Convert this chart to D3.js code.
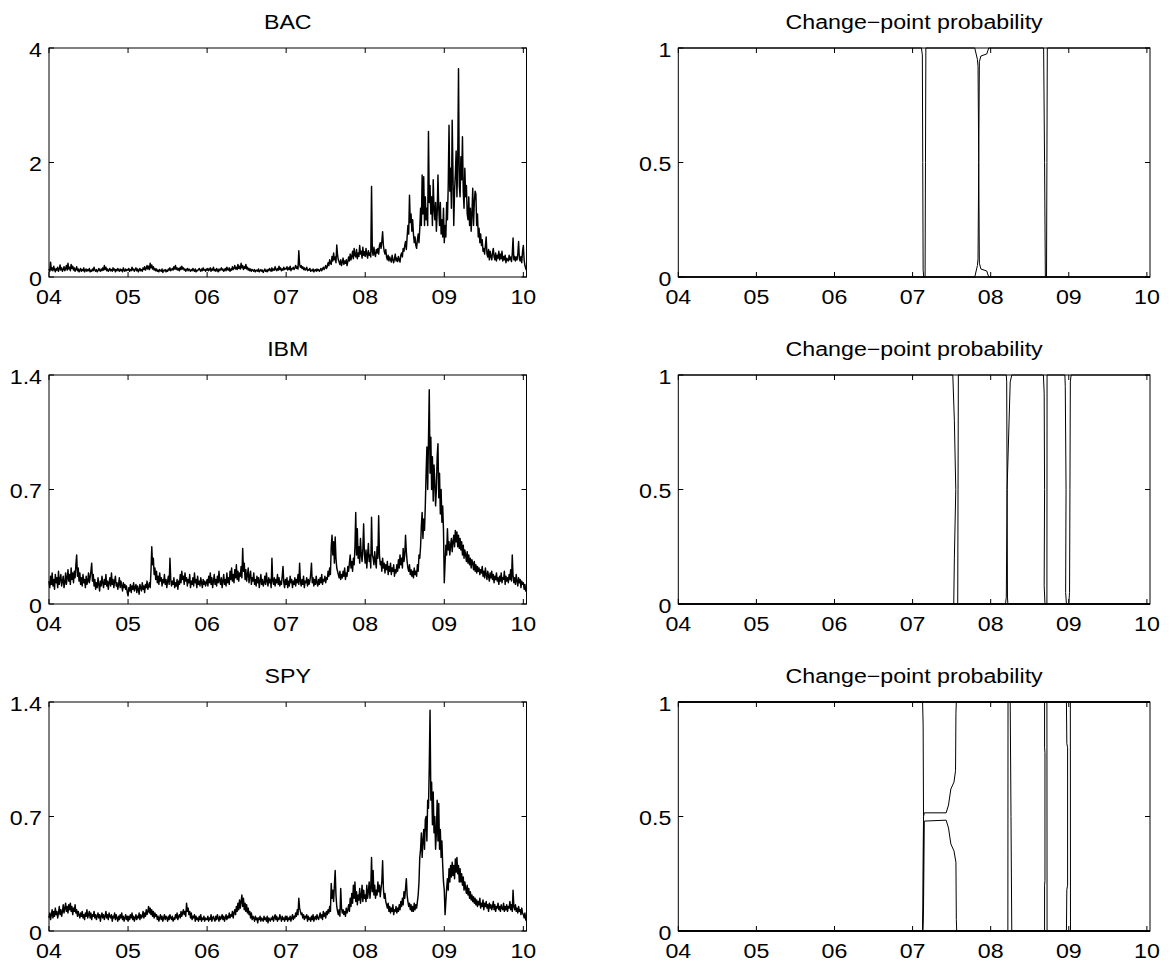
<!DOCTYPE html>
<html><head><meta charset="utf-8">
<script src="https://cdn.jsdelivr.net/npm/d3@7"></script>
<style>body{margin:0;background:#fff}svg{display:block}text{font-family:"Liberation Sans",Arial,sans-serif;fill:#000}</style>
</head><body><svg id="c" width="1170" height="961"></svg>
<script>
// ---------- data ----------
const yearTicks = [2004,2005,2006,2007,2008,2009,2010];
const yearLabels = ["04","05","06","07","08","09","10"];
const tStart = 2004, tEnd = 2010.04;
const seriesNames = ["BAC","IBM","SPY"];
const cpTitle = "Change\u2212point probability";
const yTicksBAC = [0,2,4], yLabelsBAC = ["0","2","4"];
const yTicksIBM = [0,0.7,1.4], yLabelsIBM = ["0","0.7","1.4"];
const yTicksSPY = [0,0.7,1.4], yLabelsSPY = ["0","0.7","1.4"];
const yTicksCP = [0,0.5,1], yLabelsCP = ["0","0.5","1"];

// volatility, sampled every ~0.01 year from 2004.00 to 2010.04
const volBAC = [
0.14,0.1,0.26,0.12,0.16,0.11,0.19,0.13,0.09,0.15,0.12,0.17,0.1,0.14,0.21,0.12,0.16,0.1,0.13,0.18,
0.11,0.15,0.2,0.12,0.24,0.14,0.17,0.11,0.22,0.15,0.19,0.12,0.16,0.1,0.13,0.18,0.11,0.14,0.09,0.12,
0.15,0.1,0.13,0.11,0.16,0.09,0.12,0.14,0.1,0.13,0.11,0.15,0.09,0.12,0.1,0.14,0.11,0.17,0.12,0.1,
0.13,0.09,0.11,0.15,0.12,0.1,0.14,0.11,0.16,0.12,0.2,0.13,0.17,0.11,0.14,0.1,0.12,0.15,0.11,0.13,
0.1,0.16,0.12,0.14,0.09,0.13,0.11,0.15,0.12,0.1,0.14,0.11,0.13,0.09,0.16,0.12,0.1,0.14,0.11,0.13,
0.12,0.15,0.1,0.13,0.11,0.17,0.12,0.14,0.1,0.13,0.16,0.11,0.14,0.09,0.12,0.15,0.11,0.13,0.1,0.16,
0.13,0.18,0.12,0.15,0.2,0.14,0.19,0.13,0.24,0.16,0.21,0.14,0.18,0.12,0.15,0.11,0.14,0.1,0.12,0.09,
0.13,0.11,0.1,0.14,0.08,0.12,0.11,0.13,0.09,0.12,0.1,0.14,0.12,0.16,0.11,0.13,0.15,0.12,0.18,0.14,
0.2,0.13,0.16,0.12,0.15,0.11,0.17,0.13,0.19,0.14,0.16,0.12,0.14,0.1,0.13,0.15,0.11,0.14,0.12,0.1,
0.13,0.11,0.15,0.12,0.1,0.14,0.09,0.12,0.11,0.13,0.15,0.12,0.1,0.14,0.11,0.16,0.12,0.13,0.1,0.14,
0.12,0.15,0.11,0.13,0.16,0.1,0.14,0.12,0.17,0.11,0.13,0.1,0.15,0.12,0.09,0.14,0.11,0.13,0.16,0.12,
0.14,0.1,0.12,0.15,0.11,0.17,0.13,0.12,0.16,0.1,0.14,0.12,0.18,0.13,0.15,0.2,0.14,0.17,0.13,0.22,
0.15,0.19,0.14,0.24,0.16,0.2,0.13,0.18,0.15,0.22,0.14,0.17,0.12,0.15,0.11,0.14,0.1,0.13,0.12,0.1,
0.13,0.09,0.11,0.12,0.1,0.14,0.09,0.11,0.13,0.1,0.12,0.08,0.11,0.14,0.1,0.12,0.09,0.13,0.11,0.15,
0.12,0.1,0.16,0.11,0.14,0.12,0.18,0.13,0.11,0.15,0.12,0.19,0.13,0.16,0.11,0.14,0.12,0.17,0.13,0.15,
0.14,0.18,0.12,0.16,0.13,0.19,0.11,0.15,0.14,0.17,0.13,0.16,0.2,0.15,0.18,0.14,0.46,0.22,0.17,0.2,
0.15,0.18,0.13,0.16,0.12,0.14,0.17,0.11,0.13,0.12,0.15,0.1,0.12,0.11,0.14,0.09,0.12,0.13,0.1,0.14,
0.11,0.13,0.1,0.12,0.15,0.11,0.14,0.17,0.13,0.16,0.2,0.15,0.18,0.25,0.2,0.3,0.24,0.22,0.36,0.28,
0.42,0.3,0.35,0.25,0.56,0.38,0.3,0.26,0.22,0.3,0.2,0.26,0.33,0.22,0.28,0.24,0.3,0.2,0.27,0.35,
0.28,0.4,0.3,0.36,0.45,0.32,0.5,0.38,0.35,0.48,0.32,0.42,0.36,0.55,0.4,0.45,0.33,0.52,0.38,0.44,
0.36,0.5,0.4,0.33,0.46,0.38,0.42,0.35,1.58,0.45,0.38,0.52,0.4,0.36,0.48,0.42,0.5,0.4,0.55,0.6,
0.5,0.62,0.79,0.55,0.45,0.4,0.48,0.35,0.3,0.38,0.28,0.35,0.3,0.26,0.38,0.3,0.25,0.32,0.4,0.28,
0.33,0.27,0.36,0.3,0.26,0.38,0.42,0.35,0.5,0.45,0.55,0.62,0.48,0.7,0.9,0.75,1.43,0.95,1.1,0.8,
1.0,0.75,0.6,0.7,0.55,0.5,0.65,0.75,0.6,0.85,1.2,0.9,1.78,1.1,1.75,0.9,1.4,1.0,1.2,0.9,
2.54,1.3,1.6,1.1,1.4,0.9,1.7,1.2,1.0,1.3,0.8,1.1,1.78,1.2,0.9,1.3,0.75,1.0,0.7,1.2,
0.6,0.9,0.7,1.3,1.0,1.6,2.65,1.5,1.9,1.2,2.74,1.8,0.9,1.5,1.8,2.2,1.4,2.0,3.64,1.6,
1.4,2.1,1.7,2.45,1.5,1.2,1.9,1.4,1.6,1.1,1.0,1.4,0.9,1.2,0.8,1.1,1.55,0.9,1.3,1.5,
1.45,0.9,1.1,0.7,0.85,0.6,0.75,0.55,0.65,0.45,0.5,0.4,0.55,0.7,0.4,0.35,0.48,0.3,0.45,0.36,
0.3,0.42,0.5,0.35,0.3,0.42,0.28,0.38,0.33,0.45,0.3,0.4,0.32,0.45,0.28,0.36,0.3,0.38,0.25,0.33,
0.3,0.28,0.38,0.3,0.35,0.27,0.4,0.68,0.3,0.36,0.28,0.35,0.3,0.4,0.62,0.32,0.28,0.36,0.25,0.45,
0.55,0.3,0.2,0.15,0.12];

const volIBM = [
0.14,0.1,0.17,0.12,0.19,0.11,0.15,0.09,0.18,0.13,0.16,0.1,0.2,0.12,0.15,0.18,0.11,0.14,0.17,0.1,
0.13,0.19,0.12,0.16,0.21,0.14,0.18,0.12,0.22,0.15,0.19,0.13,0.2,0.16,0.24,0.3,0.17,0.22,0.14,0.19,
0.12,0.16,0.11,0.18,0.13,0.15,0.1,0.17,0.12,0.14,0.19,0.13,0.16,0.2,0.25,0.14,0.18,0.11,0.15,0.09,
0.13,0.1,0.16,0.12,0.08,0.14,0.11,0.17,0.13,0.1,0.15,0.12,0.18,0.11,0.14,0.09,0.13,0.16,0.11,0.19,
0.12,0.15,0.1,0.14,0.17,0.11,0.13,0.09,0.12,0.16,0.1,0.14,0.11,0.08,0.13,0.1,0.12,0.09,0.11,0.07,
0.05,0.1,0.08,0.12,0.07,0.11,0.09,0.13,0.08,0.1,0.12,0.07,0.11,0.09,0.06,0.12,0.1,0.08,0.13,0.09,
0.11,0.07,0.12,0.1,0.14,0.09,0.11,0.13,0.1,0.2,0.35,0.24,0.28,0.18,0.22,0.15,0.2,0.13,0.17,0.12,
0.19,0.14,0.16,0.11,0.15,0.13,0.18,0.12,0.15,0.1,0.14,0.17,0.12,0.28,0.15,0.11,0.14,0.12,0.16,0.1,
0.13,0.11,0.15,0.09,0.14,0.12,0.18,0.13,0.2,0.15,0.17,0.12,0.19,0.14,0.16,0.11,0.15,0.13,0.18,0.1,
0.14,0.12,0.16,0.11,0.19,0.13,0.15,0.1,0.17,0.12,0.14,0.11,0.16,0.13,0.1,0.15,0.12,0.14,0.11,0.13,
0.15,0.11,0.17,0.13,0.19,0.12,0.16,0.1,0.14,0.18,0.12,0.15,0.11,0.17,0.13,0.2,0.14,0.12,0.16,0.1,
0.14,0.18,0.12,0.15,0.11,0.19,0.13,0.16,0.12,0.2,0.15,0.22,0.14,0.18,0.13,0.21,0.16,0.24,0.15,0.2,
0.14,0.19,0.17,0.23,0.16,0.34,0.2,0.25,0.15,0.21,0.14,0.18,0.22,0.13,0.17,0.2,0.12,0.16,0.14,0.19,
0.12,0.15,0.11,0.17,0.13,0.16,0.1,0.14,0.18,0.12,0.15,0.11,0.13,0.17,0.12,0.19,0.14,0.11,0.16,0.13,
0.15,0.1,0.28,0.14,0.12,0.16,0.11,0.15,0.13,0.18,0.12,0.16,0.11,0.14,0.12,0.17,0.23,0.13,0.1,0.15,
0.12,0.16,0.1,0.14,0.11,0.17,0.13,0.15,0.1,0.14,0.12,0.16,0.11,0.15,0.13,0.18,0.12,0.25,0.14,0.11,
0.15,0.12,0.17,0.1,0.14,0.13,0.16,0.11,0.15,0.12,0.14,0.18,0.25,0.13,0.16,0.11,0.15,0.12,0.17,0.13,
0.11,0.15,0.12,0.16,0.13,0.18,0.12,0.15,0.14,0.17,0.13,0.16,0.15,0.2,0.17,0.22,0.18,0.35,0.42,0.3,
0.38,0.25,0.41,0.28,0.22,0.2,0.18,0.16,0.2,0.15,0.18,0.16,0.2,0.17,0.22,0.15,0.19,0.17,0.23,0.2,
0.25,0.3,0.22,0.26,0.2,0.28,0.24,0.35,0.56,0.3,0.46,0.28,0.35,0.25,0.4,0.3,0.26,0.34,0.49,0.3,
0.25,0.33,0.22,0.3,0.37,0.26,0.3,0.22,0.53,0.3,0.28,0.24,0.32,0.26,0.22,0.35,0.28,0.54,0.3,0.24,
0.26,0.2,0.28,0.22,0.25,0.19,0.24,0.21,0.26,0.18,0.23,0.2,0.25,0.18,0.22,0.2,0.24,0.17,0.21,0.19,
0.24,0.2,0.27,0.22,0.3,0.24,0.28,0.22,0.34,0.26,0.3,0.42,0.32,0.26,0.22,0.2,0.24,0.18,0.21,0.17,
0.2,0.16,0.22,0.18,0.2,0.17,0.24,0.2,0.3,0.28,0.35,0.48,0.56,0.4,0.52,0.45,0.6,0.8,0.96,0.7,
1.0,1.31,0.8,1.02,0.7,0.9,0.63,0.85,0.75,0.6,0.7,0.9,0.98,0.65,0.8,0.55,0.7,0.5,0.6,0.45,
0.13,0.25,0.36,0.3,0.46,0.33,0.38,0.3,0.36,0.4,0.32,0.38,0.42,0.35,0.45,0.38,0.44,0.35,0.42,0.34,
0.4,0.33,0.38,0.3,0.36,0.28,0.33,0.3,0.26,0.32,0.25,0.3,0.24,0.28,0.22,0.27,0.25,0.21,0.26,0.2,
0.24,0.19,0.23,0.2,0.22,0.18,0.21,0.19,0.23,0.17,0.2,0.16,0.22,0.18,0.15,0.2,0.17,0.14,0.19,0.16,
0.2,0.15,0.18,0.13,0.17,0.15,0.19,0.14,0.16,0.12,0.17,0.14,0.19,0.13,0.16,0.15,0.2,0.12,0.17,0.14,
0.16,0.13,0.18,0.15,0.21,0.14,0.3,0.17,0.13,0.16,0.12,0.18,0.14,0.11,0.16,0.13,0.15,0.1,0.14,0.12,
0.13,0.09,0.12,0.08,0.1];

const volSPY = [
0.08,0.11,0.07,0.1,0.13,0.08,0.12,0.09,0.14,0.1,0.12,0.08,0.11,0.15,0.1,0.13,0.09,0.12,0.16,0.11,
0.14,0.17,0.12,0.15,0.11,0.16,0.13,0.17,0.12,0.15,0.1,0.14,0.12,0.16,0.11,0.13,0.09,0.12,0.1,0.08,
0.11,0.09,0.12,0.08,0.1,0.07,0.11,0.09,0.13,0.08,0.1,0.12,0.08,0.11,0.07,0.1,0.09,0.12,0.08,0.1,
0.07,0.09,0.11,0.08,0.1,0.06,0.09,0.11,0.08,0.1,0.07,0.09,0.12,0.08,0.1,0.07,0.11,0.09,0.08,0.1,
0.06,0.09,0.08,0.11,0.07,0.1,0.08,0.06,0.09,0.07,0.1,0.08,0.11,0.07,0.09,0.06,0.08,0.1,0.07,0.09,
0.06,0.09,0.07,0.1,0.08,0.11,0.07,0.09,0.06,0.08,0.1,0.07,0.09,0.08,0.11,0.07,0.1,0.08,0.09,0.12,
0.08,0.11,0.09,0.13,0.1,0.12,0.15,0.11,0.14,0.1,0.13,0.09,0.12,0.08,0.11,0.09,0.1,0.07,0.09,0.06,
0.08,0.1,0.07,0.09,0.06,0.08,0.1,0.07,0.09,0.08,0.06,0.09,0.07,0.1,0.08,0.07,0.09,0.06,0.08,0.07,
0.1,0.08,0.11,0.07,0.09,0.1,0.08,0.12,0.09,0.11,0.13,0.1,0.12,0.09,0.17,0.12,0.14,0.1,0.12,0.08,
0.11,0.07,0.09,0.08,0.1,0.06,0.09,0.07,0.08,0.06,0.09,0.07,0.1,0.06,0.08,0.07,0.09,0.06,0.08,0.07,
0.07,0.09,0.06,0.08,0.07,0.1,0.06,0.08,0.09,0.07,0.06,0.09,0.07,0.1,0.08,0.06,0.09,0.07,0.08,0.1,
0.07,0.09,0.06,0.08,0.1,0.07,0.09,0.08,0.11,0.08,0.1,0.09,0.12,0.08,0.11,0.13,0.1,0.15,0.12,0.17,
0.13,0.19,0.14,0.18,0.22,0.15,0.2,0.13,0.17,0.12,0.16,0.11,0.14,0.1,0.12,0.08,0.11,0.07,0.09,0.08,
0.06,0.09,0.07,0.08,0.05,0.08,0.07,0.09,0.06,0.08,0.07,0.06,0.09,0.07,0.08,0.06,0.09,0.05,0.08,0.07,
0.06,0.08,0.07,0.09,0.06,0.08,0.1,0.07,0.09,0.06,0.08,0.07,0.1,0.08,0.06,0.09,0.07,0.08,0.06,0.09,
0.07,0.09,0.06,0.08,0.07,0.09,0.06,0.08,0.1,0.07,0.09,0.08,0.11,0.09,0.13,0.1,0.2,0.14,0.12,0.1,
0.11,0.08,0.1,0.07,0.09,0.08,0.1,0.06,0.09,0.07,0.08,0.06,0.09,0.07,0.1,0.06,0.08,0.09,0.07,0.1,
0.08,0.07,0.09,0.11,0.08,0.1,0.07,0.12,0.09,0.11,0.08,0.12,0.1,0.13,0.11,0.15,0.12,0.29,0.2,0.25,
0.18,0.28,0.37,0.22,0.15,0.12,0.1,0.13,0.09,0.26,0.14,0.11,0.13,0.1,0.12,0.09,0.14,0.11,0.13,0.16,
0.12,0.2,0.15,0.23,0.17,0.28,0.2,0.3,0.18,0.24,0.16,0.22,0.19,0.26,0.17,0.21,0.28,0.18,0.25,0.2,
0.22,0.18,0.28,0.2,0.24,0.3,0.2,0.26,0.45,0.24,0.37,0.22,0.28,0.2,0.25,0.22,0.3,0.24,0.28,0.21,
0.26,0.3,0.43,0.26,0.2,0.23,0.18,0.16,0.14,0.17,0.12,0.15,0.11,0.14,0.12,0.16,0.1,0.13,0.12,0.15,
0.11,0.14,0.12,0.16,0.13,0.18,0.15,0.2,0.16,0.24,0.2,0.26,0.32,0.22,0.18,0.15,0.17,0.13,0.16,0.12,
0.15,0.12,0.17,0.13,0.16,0.14,0.18,0.22,0.3,0.45,0.5,0.6,0.45,0.55,0.62,0.5,0.68,0.7,0.55,0.8,
0.75,1.0,1.35,0.8,0.91,0.65,0.85,0.6,0.7,0.5,0.6,0.8,0.55,0.78,0.5,0.62,0.45,0.55,0.4,0.3,
0.25,0.1,0.18,0.26,0.32,0.25,0.38,0.3,0.4,0.33,0.42,0.34,0.4,0.32,0.44,0.36,0.45,0.35,0.4,0.3,
0.38,0.3,0.35,0.28,0.33,0.25,0.3,0.26,0.23,0.28,0.22,0.26,0.2,0.24,0.19,0.22,0.18,0.21,0.17,0.2,
0.16,0.19,0.15,0.18,0.16,0.2,0.14,0.17,0.15,0.19,0.13,0.17,0.15,0.18,0.14,0.16,0.12,0.17,0.14,0.16,
0.13,0.15,0.18,0.13,0.16,0.12,0.15,0.14,0.17,0.13,0.15,0.12,0.16,0.14,0.13,0.17,0.12,0.15,0.13,0.16,
0.12,0.15,0.14,0.18,0.13,0.16,0.12,0.25,0.15,0.13,0.16,0.12,0.14,0.11,0.15,0.12,0.13,0.1,0.14,0.11,
0.1,0.08,0.11,0.07,0.06];

// change-point probability curves: [year, probability]
const cpBAC = [
 [[2004,1],[2007.113,1],[2007.125,0.97],[2007.13,0.5],[2007.135,0.03],[2007.143,0],[2010.04,0]],
 [[2004,0],[2007.16,0],[2007.165,0.5],[2007.17,1],[2007.796,1],[2007.83,0.95],[2007.838,0.92],[2007.847,0.5],[2007.855,0.06],[2007.875,0.035],[2007.95,0.026],[2007.975,0],[2010.04,0]],
 [[2004,0],[2007.796,0],[2007.83,0.05],[2007.838,0.08],[2007.847,0.5],[2007.855,0.94],[2007.875,0.965],[2007.95,0.974],[2007.975,1],[2008.678,1],[2008.69,0.5],[2008.70,0],[2010.04,0]],
 [[2004,0],[2008.715,0],[2008.72,0.5],[2008.725,1],[2010.04,1]]
];
const cpIBM = [
 [[2004,1],[2007.515,1],[2007.535,0.8],[2007.553,0.5],[2007.535,0.2],[2007.527,0],[2010.04,0]],
 [[2004,0],[2007.578,0],[2007.582,0.5],[2007.586,1],[2008.2,1],[2008.205,0.97],[2008.21,0.5],[2008.215,0.03],[2008.22,0],[2010.04,0]],
 [[2004,0],[2008.19,0],[2008.2,0.03],[2008.21,0.5],[2008.25,0.97],[2008.27,1],[2008.675,1],[2008.685,0.92],[2008.69,0.5],[2008.685,0.08],[2008.695,0],[2010.04,0]],
 [[2004,0],[2008.72,0],[2008.722,1],[2008.95,1],[2008.955,0.95],[2008.965,0.5],[2008.96,0.05],[2008.97,0],[2010.04,0]],
 [[2004,0],[2009.0,0],[2009.01,0.05],[2009.015,0.5],[2009.02,0.97],[2009.03,1],[2010.04,1]]
];
const cpSPY = [
 [[2004,1],[2007.128,1],[2007.135,0.9],[2007.14,0.5],[2007.135,0.1],[2007.128,0],[2010.04,0]],
 [[2004,0],[2007.13,0],[2007.14,0.1],[2007.15,0.48],[2007.43,0.484],[2007.46,0.45],[2007.49,0.38],[2007.53,0.35],[2007.555,0.3],[2007.56,0.05],[2007.565,0],[2010.04,0]],
 [[2004,0],[2007.13,0],[2007.14,0.5],[2007.15,0.516],[2007.43,0.516],[2007.46,0.55],[2007.49,0.62],[2007.53,0.65],[2007.55,0.7],[2007.555,0.95],[2007.56,1],[2010.04,1]],
 [[2004,0],[2008.22,0],[2008.222,1],[2010.04,1]],
 [[2004,1],[2008.25,1],[2008.26,0.5],[2008.27,0],[2010.04,0]],
 [[2004,0],[2008.69,0],[2008.69,0.2],[2008.695,0.22],[2008.695,0.78],[2008.69,0.8],[2008.69,1],[2010.04,1]],
 [[2004,1],[2008.72,1],[2008.722,0],[2010.04,0]],
 [[2004,0],[2008.97,0],[2008.975,0.18],[2008.985,0.2],[2008.985,0.8],[2008.975,0.82],[2008.97,1],[2010.04,1]],
 [[2004,1],[2009.02,1],[2009.022,0],[2010.04,0]]
];

// ---------- layout ----------
const svg = d3.select("#c");
const leftX = [49, 526.5], rightX = [678.3, 1150];
const rowTop = [48, 375, 702], rowH = 229;
const fontPx = 20, stretch = 1.16;

function drawAxes(g, x, y, yt, yl, title) {
  const [x0,x1] = x.range(), [y0,y1] = [y.range()[1], y.range()[0]];
  g.append("rect").attr("x",x0).attr("y",y0).attr("width",x1-x0).attr("height",y1-y0)
    .attr("fill","none").attr("stroke","#000").attr("stroke-width",1);
  const tl = 5;
  yearTicks.forEach((t,i)=>{
    const xx = x(t);
    g.append("line").attr("x1",xx).attr("x2",xx).attr("y1",y1).attr("y2",y1-tl).attr("stroke","#000");
    g.append("line").attr("x1",xx).attr("x2",xx).attr("y1",y0).attr("y2",y0+tl).attr("stroke","#000");
    g.append("text").attr("text-anchor","middle").attr("font-size",fontPx)
      .attr("transform",`translate(${xx},${y1+26.5}) scale(${stretch},1)`).text(yearLabels[i]);
  });
  yt.forEach((v,i)=>{
    const yy = y(v);
    g.append("line").attr("x1",x0).attr("x2",x0+tl).attr("y1",yy).attr("y2",yy).attr("stroke","#000");
    g.append("line").attr("x1",x1).attr("x2",x1-tl).attr("y1",yy).attr("y2",yy).attr("stroke","#000");
    g.append("text").attr("text-anchor","end").attr("font-size",fontPx)
      .attr("transform",`translate(${x0-7},${yy+8.5}) scale(${stretch},1)`).text(yl[i]);
  });
  g.append("text").attr("text-anchor","middle").attr("font-size",fontPx)
    .attr("transform",`translate(${(x0+x1)/2},${y0-19}) scale(${stretch},1)`).text(title);
}

const vols = [volBAC, volIBM, volSPY];
const yDomains = [[0,4],[0,1.4],[0,1.4]];
const yTickSets = [[yTicksBAC,yLabelsBAC],[yTicksIBM,yLabelsIBM],[yTicksSPY,yLabelsSPY]];
const cps = [cpBAC, cpIBM, cpSPY];

for (let r=0;r<3;r++){
  const top = rowTop[r], bot = top+rowH;
  const gl = svg.append("g");
  const xl = d3.scaleLinear().domain([tStart,tEnd]).range(leftX);
  const yl = d3.scaleLinear().domain(yDomains[r]).range([bot,top]);
  const vals = vols[r];
  const step = (tEnd-tStart)/(vals.length-1);
  const line = d3.line().x((d,i)=>xl(tStart+i*step)).y(d=>yl(d));
  gl.append("path").datum(vals).attr("d",line).attr("fill","none")
    .attr("stroke","#000").attr("stroke-width",1.45).attr("stroke-linejoin","round");
  drawAxes(gl, xl, yl, yTickSets[r][0], yTickSets[r][1], seriesNames[r]);
  const gr = svg.append("g");
  const xr = d3.scaleLinear().domain([tStart,tEnd]).range(rightX);
  const yr = d3.scaleLinear().domain([0,1]).range([bot,top]);
  const cl = d3.line().x(d=>xr(d[0])).y(d=>yr(d[1]));
  cps[r].forEach(c=>{
    gr.append("path").datum(c).attr("d",cl).attr("fill","none")
      .attr("stroke","#000").attr("stroke-width",1);
  });
  drawAxes(gr, xr, yr, yTicksCP, yLabelsCP, cpTitle);
}
</script></body></html>
